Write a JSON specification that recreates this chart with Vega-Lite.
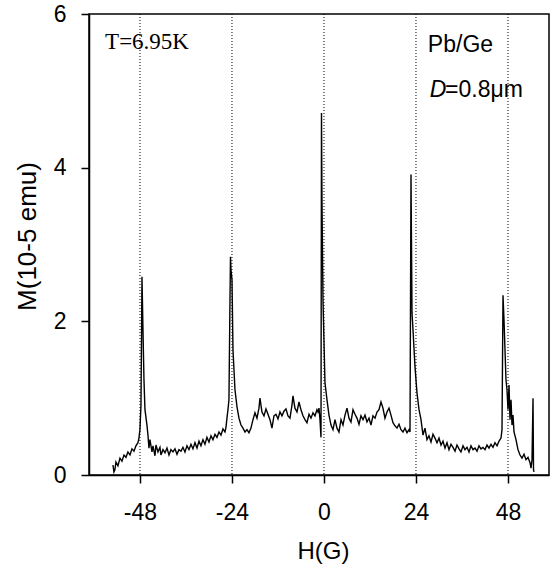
{
  "$schema": "https://vega.github.io/schema/vega-lite/v6.json",
  "width": 460,
  "height": 461,
  "autosize": {"type": "none"},
  "padding": {"left": 89, "top": 14, "right": 7, "bottom": 93},
  "background": "white",
  "config": {
    "view": {"stroke": "#000", "strokeWidth": 1.5},
    "axis": {"font": "Liberation Sans", "labelFont": "Liberation Sans", "titleFont": "Liberation Sans", "labelColor": "#000", "titleColor": "#000", "domainColor": "#000", "tickColor": "#000", "domainWidth": 1.5, "tickWidth": 1.5, "tickSize": 8, "grid": false, "labelFontSize": 23, "titleFontSize": 24, "titleFontWeight": "normal"}
  },
  "datasets": {
    "curve": [
      {"h":-55.05,"m":0.13},{"h":-54.79,"m":0.04},{"h":-54.53,"m":0.07},{"h":-54.27,"m":0.17},{"h":-53.75,"m":0.12},{"h":-53.22,"m":0.22},{"h":-52.70,"m":0.18},{"h":-52.18,"m":0.26},{"h":-51.66,"m":0.23},{"h":-51.14,"m":0.30},{"h":-50.61,"m":0.26},{"h":-50.09,"m":0.34},{"h":-49.57,"m":0.31},{"h":-49.05,"m":0.38},{"h":-48.53,"m":0.42},{"h":-48.27,"m":0.48},{"h":-48.01,"m":0.59},{"h":-47.74,"m":0.91},{"h":-47.48,"m":2.58},{"h":-47.22,"m":1.89},{"h":-46.96,"m":1.24},{"h":-46.70,"m":0.85},{"h":-46.18,"m":0.65},{"h":-45.92,"m":0.52},{"h":-45.66,"m":0.35},{"h":-45.40,"m":0.46},{"h":-44.87,"m":0.30},{"h":-44.61,"m":0.38},{"h":-44.09,"m":0.25},{"h":-43.83,"m":0.39},{"h":-43.31,"m":0.30},{"h":-42.79,"m":0.36},{"h":-42.53,"m":0.26},{"h":-42.00,"m":0.33},{"h":-41.48,"m":0.29},{"h":-40.96,"m":0.35},{"h":-40.44,"m":0.26},{"h":-39.92,"m":0.33},{"h":-39.40,"m":0.30},{"h":-38.87,"m":0.34},{"h":-38.35,"m":0.27},{"h":-37.83,"m":0.33},{"h":-37.31,"m":0.31},{"h":-36.79,"m":0.36},{"h":-36.27,"m":0.30},{"h":-35.74,"m":0.38},{"h":-35.22,"m":0.33},{"h":-34.70,"m":0.40},{"h":-34.18,"m":0.34},{"h":-33.66,"m":0.42},{"h":-33.13,"m":0.35},{"h":-32.61,"m":0.44},{"h":-32.09,"m":0.38},{"h":-31.57,"m":0.46},{"h":-31.05,"m":0.40},{"h":-30.53,"m":0.49},{"h":-30.00,"m":0.43},{"h":-29.48,"m":0.51},{"h":-28.96,"m":0.46},{"h":-28.44,"m":0.53},{"h":-27.92,"m":0.49},{"h":-27.39,"m":0.56},{"h":-26.87,"m":0.52},{"h":-26.35,"m":0.60},{"h":-25.83,"m":0.56},{"h":-25.57,"m":0.62},{"h":-25.31,"m":0.74},{"h":-25.05,"m":0.85},{"h":-24.79,"m":0.98},{"h":-24.52,"m":2.28},{"h":-24.39,"m":2.84},{"h":-24.26,"m":2.67},{"h":-24.00,"m":2.54},{"h":-23.74,"m":1.63},{"h":-23.22,"m":1.11},{"h":-22.70,"m":0.89},{"h":-22.18,"m":0.74},{"h":-21.65,"m":0.65},{"h":-21.13,"m":0.61},{"h":-20.61,"m":0.56},{"h":-20.09,"m":0.59},{"h":-19.57,"m":0.55},{"h":-19.05,"m":0.61},{"h":-18.52,"m":0.72},{"h":-18.00,"m":0.81},{"h":-17.48,"m":0.74},{"h":-16.96,"m":0.87},{"h":-16.70,"m":1.00},{"h":-16.18,"m":0.82},{"h":-15.65,"m":0.77},{"h":-15.13,"m":0.86},{"h":-14.61,"m":0.79},{"h":-14.09,"m":0.72},{"h":-13.57,"m":0.61},{"h":-13.05,"m":0.77},{"h":-12.52,"m":0.79},{"h":-12.00,"m":0.73},{"h":-11.48,"m":0.82},{"h":-10.96,"m":0.77},{"h":-10.44,"m":0.83},{"h":-9.91,"m":0.86},{"h":-9.39,"m":0.77},{"h":-8.87,"m":0.74},{"h":-8.35,"m":0.91},{"h":-8.09,"m":1.03},{"h":-7.57,"m":0.87},{"h":-7.04,"m":0.82},{"h":-6.52,"m":0.95},{"h":-6.00,"m":0.85},{"h":-5.48,"m":0.77},{"h":-4.96,"m":0.72},{"h":-4.44,"m":0.68},{"h":-3.91,"m":0.79},{"h":-3.39,"m":0.74},{"h":-2.87,"m":0.81},{"h":-2.35,"m":0.77},{"h":-1.83,"m":0.85},{"h":-1.57,"m":0.82},{"h":-1.30,"m":0.87},{"h":-1.04,"m":0.72},{"h":-0.78,"m":0.49},{"h":-0.65,"m":4.71},{"h":-0.52,"m":3.58},{"h":-0.26,"m":2.28},{"h":0.26,"m":1.20},{"h":0.78,"m":0.98},{"h":1.30,"m":0.78},{"h":1.83,"m":0.65},{"h":2.35,"m":0.59},{"h":2.87,"m":0.72},{"h":3.39,"m":0.61},{"h":3.91,"m":0.56},{"h":4.44,"m":0.72},{"h":4.96,"m":0.65},{"h":5.48,"m":0.78},{"h":6.00,"m":0.87},{"h":6.52,"m":0.74},{"h":7.04,"m":0.69},{"h":7.57,"m":0.85},{"h":8.09,"m":0.79},{"h":8.61,"m":0.74},{"h":9.13,"m":0.66},{"h":9.65,"m":0.77},{"h":10.18,"m":0.72},{"h":10.70,"m":0.78},{"h":11.22,"m":0.69},{"h":11.74,"m":0.74},{"h":12.26,"m":0.65},{"h":12.78,"m":0.77},{"h":13.31,"m":0.74},{"h":13.83,"m":0.82},{"h":14.35,"m":0.85},{"h":14.87,"m":0.95},{"h":15.39,"m":0.87},{"h":15.91,"m":0.74},{"h":16.44,"m":0.82},{"h":16.96,"m":0.87},{"h":17.48,"m":0.78},{"h":18.00,"m":0.68},{"h":18.52,"m":0.64},{"h":19.05,"m":0.61},{"h":19.57,"m":0.66},{"h":20.09,"m":0.59},{"h":20.61,"m":0.56},{"h":21.13,"m":0.61},{"h":21.65,"m":0.55},{"h":22.18,"m":0.59},{"h":22.44,"m":0.56},{"h":22.70,"m":3.91},{"h":22.96,"m":2.11},{"h":23.22,"m":1.89},{"h":23.74,"m":1.41},{"h":24.26,"m":1.07},{"h":24.79,"m":0.85},{"h":25.31,"m":0.72},{"h":25.83,"m":0.52},{"h":26.35,"m":0.61},{"h":26.87,"m":0.46},{"h":27.39,"m":0.51},{"h":27.92,"m":0.43},{"h":28.44,"m":0.53},{"h":28.96,"m":0.48},{"h":29.48,"m":0.42},{"h":30.00,"m":0.48},{"h":30.53,"m":0.39},{"h":31.05,"m":0.44},{"h":31.57,"m":0.35},{"h":32.09,"m":0.42},{"h":32.61,"m":0.33},{"h":33.13,"m":0.40},{"h":33.66,"m":0.36},{"h":34.18,"m":0.31},{"h":34.70,"m":0.39},{"h":35.22,"m":0.34},{"h":35.74,"m":0.30},{"h":36.27,"m":0.38},{"h":36.79,"m":0.33},{"h":37.31,"m":0.36},{"h":37.83,"m":0.30},{"h":38.35,"m":0.38},{"h":38.87,"m":0.33},{"h":39.40,"m":0.35},{"h":39.92,"m":0.31},{"h":40.44,"m":0.38},{"h":40.96,"m":0.34},{"h":41.48,"m":0.36},{"h":42.00,"m":0.33},{"h":42.53,"m":0.39},{"h":43.05,"m":0.35},{"h":43.57,"m":0.40},{"h":44.09,"m":0.36},{"h":44.61,"m":0.42},{"h":45.14,"m":0.38},{"h":45.66,"m":0.44},{"h":46.18,"m":0.48},{"h":46.44,"m":0.59},{"h":46.70,"m":2.34},{"h":46.96,"m":2.02},{"h":47.22,"m":1.63},{"h":47.48,"m":1.24},{"h":47.74,"m":1.11},{"h":48.01,"m":0.85},{"h":48.27,"m":1.17},{"h":48.53,"m":0.72},{"h":48.79,"m":0.98},{"h":49.05,"m":0.65},{"h":49.31,"m":0.78},{"h":49.57,"m":0.56},{"h":50.09,"m":0.46},{"h":50.61,"m":0.33},{"h":51.14,"m":0.26},{"h":51.66,"m":0.22},{"h":52.18,"m":0.27},{"h":52.70,"m":0.20},{"h":53.22,"m":0.23},{"h":53.75,"m":0.16},{"h":54.01,"m":0.09},{"h":54.27,"m":0.20},{"h":54.53,"m":1.00},{"h":54.66,"m":0.07},{"h":54.79,"m":0.04}
    ],
    "guides": [{"h": -48}, {"h": -24}, {"h": 0}, {"h": 24}, {"h": 48}]
  },
  "layer": [
    {
      "data": {"name": "guides"},
      "mark": {"type": "rule", "stroke": "#000", "strokeWidth": 1, "strokeDash": [1, 2]},
      "encoding": {
        "x": {"field": "h", "type": "quantitative", "scale": {"domain": [-61.3, 58.7], "nice": false, "zero": false}}
      }
    },
    {
      "data": {"name": "curve"},
      "mark": {"type": "line", "stroke": "#000", "strokeWidth": 1.4, "interpolate": "linear"},
      "encoding": {
        "x": {"field": "h", "type": "quantitative", "sort": null,
              "scale": {"domain": [-61.3, 58.7], "nice": false, "zero": false},
              "axis": {"values": [-48, -24, 0, 24, 48], "labelExpr": "'' + datum.value", "title": "H(G)", "labelPadding": 18, "titleX": 234, "titleY": 83, "titleBaseline": "alphabetic"}},
        "y": {"field": "m", "type": "quantitative",
              "scale": {"domain": [0, 6], "nice": false},
              "axis": {"values": [0, 2, 4, 6], "labelExpr": "'' + datum.value", "title": "M(10-5 emu)", "titleFontSize": 26, "labelPadding": 15, "titleX": -62, "titleY": 222, "titleAlign": "center", "titleBaseline": "middle", "titleAngle": 270}}
      }
    },
    {
      "data": {"values": [{"label": "T=6.95K"}]},
      "mark": {"type": "text", "font": "Liberation Serif", "fontSize": 23, "align": "left", "baseline": "alphabetic", "color": "#000"},
      "encoding": {"text": {"field": "label"}, "x": {"datum": -57.1}, "y": {"datum": 5.55}}
    },
    {
      "data": {"values": [{"label": "Pb/Ge"}]},
      "mark": {"type": "text", "font": "Liberation Sans", "fontSize": 23, "align": "left", "baseline": "alphabetic", "color": "#000"},
      "encoding": {"text": {"field": "label"}, "x": {"datum": 27.1}, "y": {"datum": 5.51}}
    },
    {
      "data": {"values": [{"label": "D"}]},
      "mark": {"type": "text", "font": "Liberation Sans", "fontStyle": "italic", "fontSize": 23, "align": "left", "baseline": "alphabetic", "color": "#000"},
      "encoding": {"text": {"field": "label"}, "x": {"datum": 27.6}, "y": {"datum": 4.92}}
    },
    {
      "data": {"values": [{"label": "=0.8μm"}]},
      "mark": {"type": "text", "font": "Liberation Sans", "fontSize": 23, "align": "left", "baseline": "alphabetic", "color": "#000"},
      "encoding": {"text": {"field": "label"}, "x": {"datum": 31.6}, "y": {"datum": 4.92}}
    }
  ]
}
